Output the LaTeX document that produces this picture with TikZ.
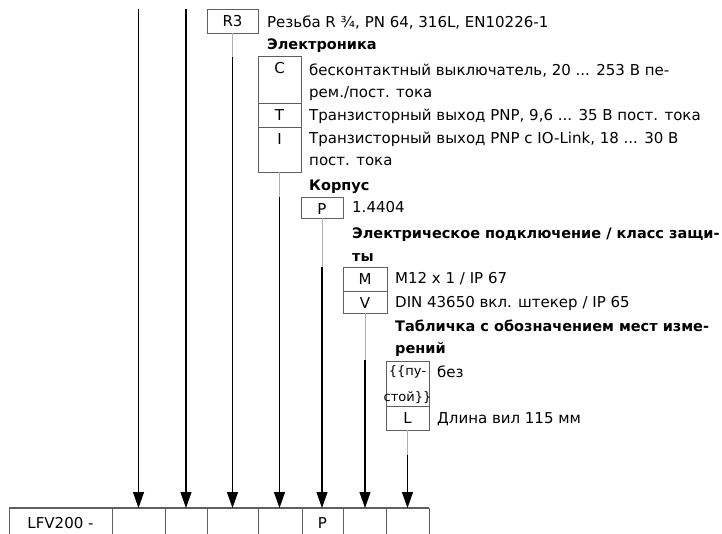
\documentclass[tikz,border=0pt]{standalone}
\usepackage{fontspec}
\setmainfont{DejaVu Sans}
\usetikzlibrary{arrows.meta, positioning}
\definecolor{boxgray}{RGB}{95,95,95}
\definecolor{linegray}{RGB}{175,175,175}

\begin{document}
\begin{tikzpicture}[
    x=1pt, y=-1pt,
    codebox/.style={draw=boxgray, line width=0.8pt, minimum width=43pt, minimum height=24pt, inner sep=0pt, outer sep=0pt, anchor=north, text height=13pt, text depth=2pt, font=\fontsize{15}{22}\selectfont},
    desc/.style={anchor=base west, inner sep=0pt, font=\fontsize{15}{22}\selectfont},
    head/.style={anchor=base west, inner sep=0pt, font=\fontsize{14.5}{22}\selectfont\bfseries},
    cell/.style={draw=boxgray, line width=0.8pt, minimum height=30pt, inner sep=0pt, outer sep=0pt, font=\fontsize{15}{22}\selectfont},
    arrow/.style={-{Triangle[length=16pt, width=11pt]}, line width=1.1pt},
    link/.style={draw=linegray, line width=0.9pt}
]
\clip (0,0) rectangle (722,533);

% Bottom row: order code
\node[cell, minimum width=103pt, anchor=north west] (c1) at (9,508) {LFV200 -};
\node[cell, minimum width=53pt, right=0pt of c1] (c2) {};
\node[cell, minimum width=42pt, right=0pt of c2] (c3) {};
\node[cell, minimum width=51pt, right=0pt of c3] (c4) {};
\node[cell, minimum width=44pt, right=0pt of c4] (c5) {};
\node[cell, minimum width=41pt, right=0pt of c5] (c6) {P};
\node[cell, minimum width=43pt, right=0pt of c6] (c7) {};
\node[cell, minimum width=43pt, right=0pt of c7] (c8) {};
\draw[boxgray, line width=1.4pt] (c1.north west) -- (c8.north east);

% Process connection
\node[codebox, minimum width=51pt, text depth=2pt] (r3) at (232.5,9) {R3};
\node[desc] (r3t) at (267,27) {Резьба R ¾, PN 64, 316L, EN10226-1};

% Electronics
\node[head] (elhead) at (267,49) {Электроника};
\node[codebox, minimum height=47pt, text depth=25pt] (ec) at (279.5,56) {C};
\node[codebox, below=0pt of ec] (et) {T};
\node[codebox, minimum height=45pt, text depth=23pt, below=0pt of et] (ei) {I};
\node[desc] (ect1) at (309,75) {бесконтактный выключатель, 20 ... 253 В пе-};
\node[desc] (ect2) at (309,97) {рем./пост. тока};
\node[desc] (ett) at (309,120) {Транзисторный выход PNP, 9,6 ... 35 В пост. тока};
\node[desc] (eit1) at (309,143) {Транзисторный выход PNP с IO-Link, 18 ... 30 В};
\node[desc] (eit2) at (309,165) {пост. тока};

% Housing
\node[head] (hshead) at (309,190) {Корпус};
\node[codebox, minimum width=42pt, minimum height=21pt, text depth=0pt] (hp) at (322,197) {P};
\node[desc] (hpt) at (352,212) {1.4404};

% Electrical connection
\node[head] (cnhead1) at (352,238) {Электрическое подключение / класс защи-};
\node[head] (cnhead2) at (352,261) {ты};
\node[codebox, minimum width=44pt] (cm) at (365,267) {M};
\node[codebox, minimum width=44pt, minimum height=22pt, text depth=0pt, below=0pt of cm] (cv) {V};
\node[desc] (cmt) at (395,283) {M12 x 1 / IP 67};
\node[desc] (cvt) at (395,307) {DIN 43650 вкл. штекер / IP 65};

% Tag plate
\node[head] (tghead1) at (395,331) {Табличка с обозначением мест изме-};
\node[head] (tghead2) at (395,353) {рений};
\node[codebox, minimum height=45pt] (tn) at (407.5,361) {};
\node[desc, anchor=base, font=\fontsize{13}{22}\selectfont] (tnl1) at (tn.north |- 0,375) {\{\{пу-};
\node[desc, anchor=base, font=\fontsize{13}{22}\selectfont] (tnl2) at (tn.north |- 0,401) {стой\}\}};
\node[codebox, below=0pt of tn] (tl) {L};
\node[desc] (tnt) at (437,377) {без};
\node[desc] (tlt) at (437,423) {Длина вил 115 мм};

% Feed lines from above
\coordinate (feed1) at (c2.north |- 0,9);
\coordinate (feed2) at (c3.north |- 0,9);
\draw[arrow] (feed1) -- (c2.north);
\draw[arrow] (feed2) -- (c3.north);

% Arrows
\draw[link] (r3.south) -- ++(0,24) coordinate (r3end);
\draw[arrow] (r3end) -- (r3end |- c4.north);
\draw[link] (ei.south) -- ++(0,25) coordinate (eiend);
\draw[arrow] (eiend) -- (eiend |- c5.north);
\draw[link] (hp.south) -- ++(0,49) coordinate (hpend);
\draw[arrow] (hpend) -- (hpend |- c6.north);
\draw[link] (cv.south) -- ++(0,47) coordinate (cvend);
\draw[arrow] (cvend) -- (cvend |- c7.north);
\draw[link] (tl.south) -- ++(0,25) coordinate (tlend);
\draw[arrow] (tlend) -- (tlend |- c8.north);

\end{tikzpicture}
\end{document}
